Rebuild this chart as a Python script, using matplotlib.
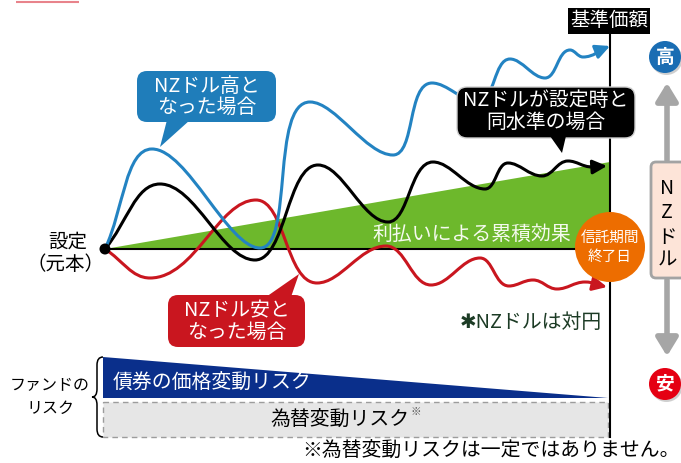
import numpy as np
import matplotlib
matplotlib.use("Agg")
import matplotlib.pyplot as plt
from matplotlib.path import Path
from matplotlib.patches import (FancyArrowPatch, FancyBboxPatch, Polygon,
                                Circle, PathPatch, Rectangle)

plt.rcParams['font.family'] = ['Noto Sans CJK JP', 'DejaVu Sans']

# ---- scenario paths of the fund's NAV (canvas units: x right, y down) ----
# turning points of each path, from the start date to the end of the period
start_x, start_y = 105, 249
end_x = 610

high_x = [105, 152, 260, 310, 393, 432, 478, 510, 545, 570, 583, 610]
high_y = [249, 149, 248, 102, 155, 83, 102, 59, 78, 50, 57, 46]

flat_x = [105, 160, 255, 318, 388, 433, 485, 508, 542, 568, 592, 607]
flat_y = [249, 184, 260, 165, 222, 162, 189, 163, 176, 161, 167, 166]

low_x = [105, 150, 256, 317, 386, 431, 480, 509, 533, 557, 585, 607]
low_y = [249, 278, 200, 283, 246, 285, 258, 286, 280, 289, 282, 287]

# cumulative distribution effect (green wedge) at the end of the period
income_end_y = 162

# texts
nav_label = "基準価額"
start_label = ["設定", "（元本）"]
income_label = "利払いによる累積効果"
maturity_label = ["信託期間", "終了日"]
high_label = ["NZドル高と", "なった場合"]
flat_label = ["NZドルが設定時と", "同水準の場合"]
low_label = ["NZドル安と", "なった場合"]
fx_note = "✱NZドルは対円"
risk_title = ["ファンドの", "リスク"]
bond_risk = "債券の価格変動リスク"
fx_risk = "為替変動リスク"
footnote = "※為替変動リスクは一定ではありません。"
scale_label = ["N", "Z", "ド", "ル"]

BLUE = "#2383c2"
BLUE_BOX = "#1f7dba"
RED = "#c9161f"
GREEN = "#6db82c"
ORANGE = "#ed6d00"
NAVY = "#0a2f8b"


def smooth_path(xs, ys, k=0.4):
    """Smooth Bezier path through the turning points (flat tangents at peaks/troughs)."""
    P = np.column_stack([xs, ys]).astype(float)
    d = np.hypot(*np.diff(P, axis=0).T)
    t = np.concatenate([[0.0], np.cumsum(d)])
    n = len(P)
    m = np.zeros_like(P)
    m[0] = (P[1] - P[0]) / d[0]
    m[-1] = (P[-1] - P[-2]) / d[-1]
    for i in range(1, n - 1):
        m[i] = (P[i + 1] - P[i - 1]) / (t[i + 1] - t[i - 1])
        if (P[i, 1] - P[i - 1, 1]) * (P[i + 1, 1] - P[i, 1]) < 0:
            m[i] = np.array([np.hypot(*m[i]), 0.0])
    verts = [P[0]]
    codes = [Path.MOVETO]
    for i in range(n - 1):
        h = d[i]
        verts += [P[i] + m[i] * h * k, P[i + 1] - m[i + 1] * h * k, P[i + 1]]
        codes += [Path.CURVE4] * 3
    return Path(verts, codes)


fig = plt.figure(figsize=(6.81, 4.63), dpi=100)
ax = fig.add_axes([0, 0, 1, 1])
ax.set_xlim(0, 681)
ax.set_ylim(463, 0)
ax.axis("off")

# thin accent line at the top
ax.plot([16, 79], [1.5, 1.5], color="#e8838b", lw=1.5, solid_capstyle="butt")

# green wedge: accumulated distributions
ax.add_patch(Polygon([(start_x, start_y), (end_x, income_end_y), (end_x, start_y)],
                     closed=True, fc=GREEN, ec="none", zorder=1))
ax.text(472, 234, income_label, color="#f5faef", fontsize=14.3,
        ha="center", va="center", zorder=2)

# principal baseline and NAV axis
ax.plot([start_x, end_x], [start_y, start_y], color="black", lw=1.5, zorder=2)
ax.plot([end_x, end_x], [33, 437], color="black", lw=1.5, zorder=2)

# NAV scenario curves
for xs, ys, c in [(low_x, low_y, RED), (flat_x, flat_y, "black"), (high_x, high_y, BLUE)]:
    arr = FancyArrowPatch(path=smooth_path(xs, ys),
                          arrowstyle="-|>,head_length=0.85,head_width=0.42",
                          mutation_scale=10, lw=2.2, color=c,
                          joinstyle="round", capstyle="round", zorder=3)
    ax.add_patch(arr)

# start point
ax.add_patch(Circle((start_x, start_y), 5.5, fc="black", ec="none", zorder=4))
ax.text(68, 242, start_label[0], fontsize=14, ha="center", va="center")
ax.text(66, 265, start_label[1], fontsize=14, ha="center", va="center")

# NAV label box
ax.text(609, 21, nav_label, fontsize=14, color="white", ha="center", va="center",
        bbox=dict(boxstyle="square,pad=0.12", fc="black", ec="none"), zorder=5)

# maturity circle
ax.add_patch(Circle((610, 247), 35, fc=ORANGE, ec="none", zorder=5))
ax.text(610, 238, maturity_label[0], fontsize=10.5, color="white",
        ha="center", va="center", zorder=6)
ax.text(610, 257, maturity_label[1], fontsize=10.5, color="white",
        ha="center", va="center", zorder=6)


def callout(x0, y0, x1, y1, tail, color, lines, ty, edge="none"):
    ax.add_patch(FancyBboxPatch((x0, y0), x1 - x0, y1 - y0,
                                boxstyle="round,pad=0,rounding_size=10",
                                fc=color, ec=edge, lw=1, zorder=6))
    ax.add_patch(Polygon(tail, closed=True, fc=color, ec="none", zorder=6))
    cx = (x0 + x1) / 2
    for line, yy in zip(lines, ty):
        ax.text(cx, yy, line, fontsize=14.3, color="white",
                ha="center", va="center", zorder=7)


callout(137, 71, 276, 122, [(167, 120), (190, 120), (160, 147)],
        BLUE_BOX, high_label, [87, 107])
callout(457, 87, 635, 138, [(550, 136), (566, 136), (562, 153)],
        "black", flat_label, [101, 122], edge="#d0d0d0")
callout(168, 295, 305, 347, [(266, 297), (291, 297), (299, 274)],
        RED, low_label, [311, 332])

ax.text(602, 322, fx_note, fontsize=14.3, color="#1c3b25", ha="right", va="center")

# right-hand NZD scale
ax.add_patch(FancyArrowPatch((667, 163), (667, 80), arrowstyle="-|>,head_length=0.9,head_width=0.55",
                             mutation_scale=12, lw=4, color="#a6a6a6", zorder=2))
ax.add_patch(FancyArrowPatch((667, 277), (667, 359), arrowstyle="-|>,head_length=0.9,head_width=0.55",
                             mutation_scale=12, lw=4, color="#a6a6a6", zorder=2))
ax.add_patch(FancyBboxPatch((651, 162), 34, 116, boxstyle="round,pad=0,rounding_size=5",
                            fc="#fde4d8", ec="#a3a3a3", lw=2, zorder=3))
for ch, yy in zip(scale_label, [188, 212, 237, 260]):
    ax.text(667, yy, ch, fontsize=14, ha="center", va="center", zorder=4)

for (cx, cy), col, ch in [((665, 57), "#1a6db3", "高"), ((665, 384), "#e50013", "安")]:
    ax.add_patch(Circle((cx + 1.5, cy + 2), 16, fc="#b0b0b0", ec="none", alpha=0.6, zorder=3))
    ax.add_patch(Circle((cx, cy), 16, fc=col, ec="none", zorder=4))
    ax.text(cx, cy, ch, fontsize=13.5, color="white", weight="bold",
            ha="center", va="center", zorder=5)

# fund risk bars
ax.add_patch(Polygon([(103, 357), (608, 398), (103, 398)], closed=True, fc=NAVY, ec="none"))
ax.text(113, 383, bond_risk, fontsize=14.3, color="white", ha="left", va="center")
ax.add_patch(Rectangle((103, 402), 505, 35, fc="#e6e6e6", ec="#9c9c9c", lw=1,
                       ls=(0, (4, 3))))
ax.text(340, 420, fx_risk, fontsize=14.3, ha="center", va="center")
ax.text(411, 412, "※", fontsize=7.5, color="#555555", ha="left", va="center")

# brace
brace = Path([(103, 357), (97, 357), (97, 365), (97, 389), (97, 397), (92, 397),
              (97, 397), (97, 405), (97, 429), (97, 437), (103, 437)],
             [Path.MOVETO, Path.CURVE3, Path.CURVE3, Path.LINETO, Path.CURVE3,
              Path.CURVE3, Path.CURVE3, Path.CURVE3, Path.LINETO, Path.CURVE3,
              Path.CURVE3])
ax.add_patch(PathPatch(brace, fc="none", ec="black", lw=1.1))
ax.text(50, 386, risk_title[0], fontsize=11.5, ha="center", va="center")
ax.text(50, 408, risk_title[1], fontsize=11.5, ha="center", va="center")

ax.text(680, 451, footnote, fontsize=14.3, ha="right", va="center")

fig.savefig("out.png", dpi=100)
